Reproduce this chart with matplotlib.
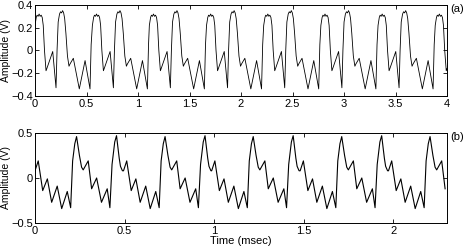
import numpy as np
import matplotlib
matplotlib.use("Agg")
import matplotlib.pyplot as plt

plt.rcParams['font.family'] = ['Liberation Sans', 'DejaVu Sans']
plt.rcParams['font.size'] = 8

# ===== DATA =====
# (a) one period of the waveform, times relative to cycle start (msec), amplitude (V)
shape_a_t = [0.000, 0.012, 0.020, 0.030, 0.040, 0.050, 0.060, 0.070, 0.080, 0.092,
             0.107, 0.115, 0.172, 0.204, 0.214, 0.225, 0.238, 0.248, 0.258, 0.268,
             0.278, 0.288, 0.300, 0.315, 0.330, 0.340, 0.372, 0.430, 0.486, 0.534, 0.545]
shape_a_v = [0.22, 0.29, 0.31, 0.30, 0.32, 0.30, 0.31, 0.29, 0.22, 0.00,
             -0.18, -0.16, -0.01, -0.33, 0.00, 0.25, 0.32, 0.34, 0.33, 0.35,
             0.33, 0.28, 0.15, -0.05, -0.14, -0.12, -0.07, -0.34, -0.09, -0.34, 0.05]
cycle_starts_a = [0.0, 0.557, 1.11, 1.665, 2.22, 2.775, 3.33, 3.885]

# (b)
shape_b_t = [0.000, 0.018, 0.043, 0.069, 0.093, 0.124, 0.149, 0.180, 0.199, 0.210,
             0.222, 0.232, 0.248, 0.260, 0.269, 0.297, 0.316, 0.344, 0.371, 0.403,
             0.418, 0.430, 0.445, 0.455, 0.470, 0.477, 0.488]
shape_b_v = [0.08, 0.19, -0.14, -0.01, -0.27, -0.09, -0.34, -0.15, -0.33, 0.19,
             0.38, 0.46, 0.25, 0.12, 0.09, 0.19, -0.12, 0.00, -0.27, -0.12,
             -0.33, 0.15, 0.40, 0.47, 0.22, 0.13, 0.08]
cycle_starts_b = [0.0, 0.494, 0.986, 1.480, 1.973]

xticks_a = [0, 0.5, 1, 1.5, 2, 2.5, 3, 3.5, 4]
yticks_a = [-0.4, -0.2, 0, 0.2, 0.4]
xticks_b = [0, 0.5, 1, 1.5, 2]
yticks_b = [-0.5, 0, 0.5]


def build(shape_t, shape_v, starts):
    t, v = [], []
    for s in starts:
        t += [s + x for x in shape_t]
        v += list(shape_v)
    return np.array(t), np.array(v)


def style(ax):
    ax.tick_params(direction='in', top=True, right=True, length=3, width=0.6, pad=2)
    ax.tick_params(axis='y', pad=1.5)
    for sp in ax.spines.values():
        sp.set_linewidth(0.7)
    ax.yaxis.set_label_coords(-0.071, 0.5)


fig = plt.figure(figsize=(4.63, 2.48), dpi=100)

ax1 = fig.add_axes([0.0756, 0.614, 0.89, 0.366])
ta, va = build(shape_a_t, shape_a_v, cycle_starts_a)
keep = ta <= 4.0
ax1.plot(ta[keep], va[keep], color='black', lw=0.6)
ax1.set_xlim(0, 4)
ax1.set_ylim(-0.4, 0.4)
ax1.set_xticks(xticks_a)
ax1.set_xticklabels([f"{x:g}" for x in xticks_a])
ax1.set_yticks(yticks_a)
ax1.set_yticklabels([f"{y:g}".replace('-', '\u2212') for y in yticks_a])
ax1.set_ylabel("Amplitude (V)", va='center', fontsize=7.5)
ax1.text(1.008, 0.96, "(a)", transform=ax1.transAxes, ha='left', va='center')
style(ax1)

ax2 = fig.add_axes([0.0756, 0.1008, 0.89, 0.363])
tb, vb = build(shape_b_t, shape_b_v, cycle_starts_b)
keep = tb <= 2.3
ax2.plot(tb[keep], vb[keep], color='black', lw=0.8)
ax2.set_xlim(0, 2.3)
ax2.set_ylim(-0.5, 0.5)
ax2.set_xticks(xticks_b)
ax2.set_xticklabels([f"{x:g}" for x in xticks_b])
ax2.set_yticks(yticks_b)
ax2.set_yticklabels([f"{y:g}".replace('-', '\u2212') for y in yticks_b])
ax2.set_ylabel("Amplitude (V)", va='center', fontsize=7.5)
ax2.set_xlabel("Time (msec)", labelpad=0)
ax2.text(1.008, 0.96, "(b)", transform=ax2.transAxes, ha='left', va='center')
style(ax2)

fig.savefig("out.png", dpi=100)
